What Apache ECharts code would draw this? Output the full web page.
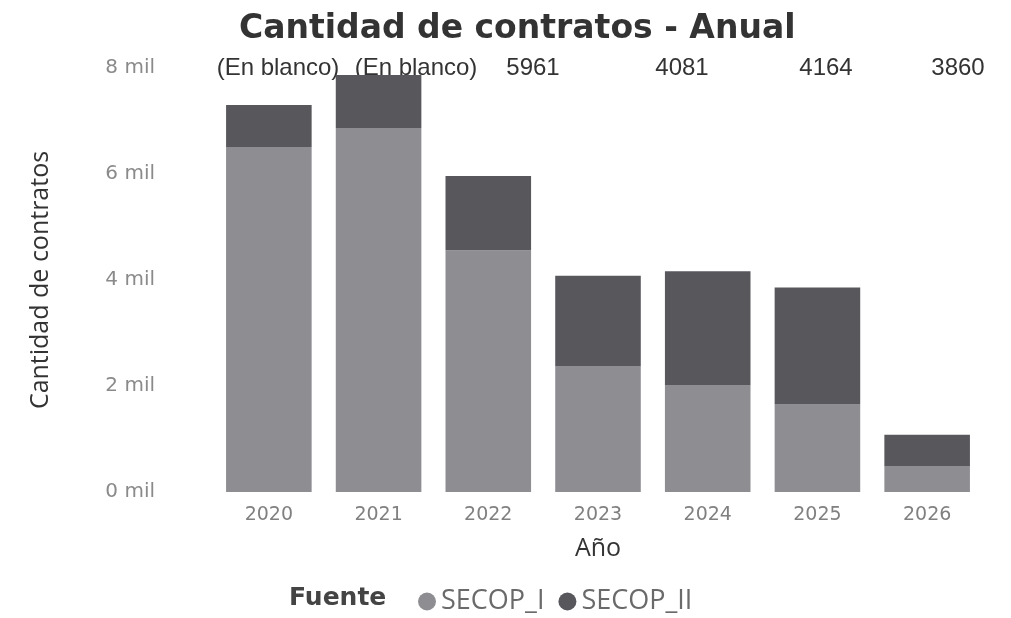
<!DOCTYPE html>
<html>
<head>
<meta charset="utf-8">
<script src="https://cdn.jsdelivr.net/npm/echarts@6/dist/echarts.min.js"></script>
<style>
html,body{margin:0;padding:0;background:#fff;}
#chart{width:1011px;height:618px;}
</style>
</head>
<body>
<div id="chart"></div>
<script>
// Data
const years = ['2020', '2021', '2022', '2023', '2024', '2025', '2026'];
const secopI = [6510, 6870, 4560, 2370, 2010, 1650, 480];
const secopII = [790, 1000, 1401, 1711, 2154, 2210, 600];
const topLabels = ['(En blanco)', '(En blanco)', '5961', '4081', '4164', '3860'];
const yTicks = [0, 2000, 4000, 6000, 8000];

// Layout for the top text row (not data)
const topLabelX = [278, 416, 533, 682, 826, 958];

const chart = echarts.init(document.getElementById('chart'));
const graphics = topLabels.map((t, i) => ({
  type: 'text',
  x: topLabelX[i],
  y: 68,
  style: {
    text: t,
    textAlign: 'center',
    textVerticalAlign: 'middle',
    fill: '#333',
    font: '24px "Liberation Sans", Arial, sans-serif'
  }
}));
graphics.push({
  type: 'text',
  x: 289,
  y: 598,
  style: {
    text: 'Fuente',
    textVerticalAlign: 'middle',
    fill: '#444',
    font: 'bold 25px "DejaVu Sans", sans-serif'
  }
});

chart.setOption({
  animation: false,
  backgroundColor: '#fff',
  title: {
    text: 'Cantidad de contratos - Anual',
    left: 234,
    top: 8,
    textStyle: {
      fontFamily: '"DejaVu Sans", sans-serif',
      fontWeight: 'bold',
      fontSize: 33,
      color: '#333'
    }
  },
  grid: { left: 214, right: 29, top: 68, bottom: 126 },
  legend: {
    left: 413,
    top: 583,
    icon: 'circle',
    itemWidth: 18,
    itemHeight: 18,
    itemGap: 14,
    textStyle: {
      fontFamily: '"Open Sans", sans-serif',
      fontSize: 27,
      color: '#6a6a6a'
    },
    data: ['SECOP_I', 'SECOP_II']
  },
  xAxis: {
    type: 'category',
    data: years,
    name: 'Año',
    nameLocation: 'middle',
    nameGap: 44,
    nameTextStyle: { fontFamily: '"Open Sans", sans-serif', fontSize: 25, color: '#333' },
    axisLine: { show: false },
    axisTick: { show: false },
    axisLabel: {
      fontFamily: '"DejaVu Sans", sans-serif',
      fontSize: 19,
      color: '#808080',
      margin: 14
    }
  },
  yAxis: {
    type: 'value',
    min: 0,
    max: 8000,
    interval: 2000,
    name: 'Cantidad de contratos',
    nameLocation: 'middle',
    nameGap: 161,
    nameTextStyle: { fontFamily: '"Open Sans", sans-serif', fontSize: 25, color: '#333' },
    splitLine: { show: false },
    axisLine: { show: false },
    axisTick: { show: false },
    axisLabel: {
      fontFamily: '"DejaVu Sans", sans-serif',
      fontSize: 20,
      color: '#8a8a8a',
      margin: 59,
      formatter: v => (yTicks.indexOf(v) >= 0 ? (v / 1000) + ' mil' : '')
    }
  },
  series: [
    {
      name: 'SECOP_I',
      type: 'bar',
      stack: 'total',
      data: secopI,
      barCategoryGap: '22%',
      itemStyle: { color: '#8e8d92' }
    },
    {
      name: 'SECOP_II',
      type: 'bar',
      stack: 'total',
      data: secopII,
      barCategoryGap: '22%',
      itemStyle: { color: '#58575c' }
    }
  ],
  graphic: graphics
});
</script>
</body>
</html>
